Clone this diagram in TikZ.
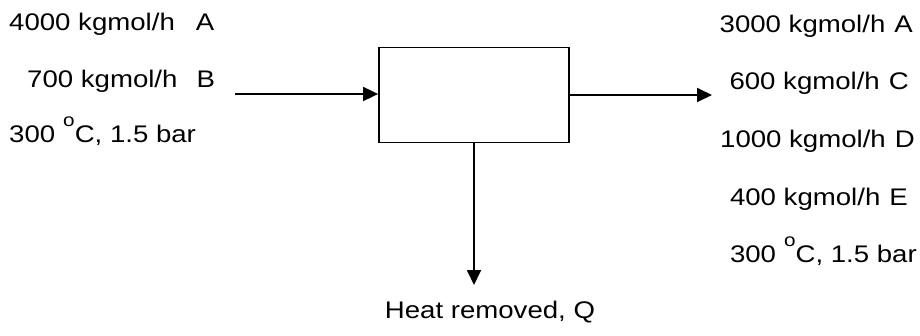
\documentclass[tikz,border=0pt]{standalone}
\usepackage{fontspec}
\setmainfont[FakeStretch=1.15]{Liberation Sans}
\usetikzlibrary{arrows.meta}
\newcommand{\degsup}{\hspace{8pt}\raisebox{0.66em}{\fontsize{18}{18}\selectfont o}}
\begin{document}
\begin{tikzpicture}[x=1pt,y=-1pt,
            txt/.style={inner sep=0pt, font=\fontsize{24}{28}\selectfont},
            inlbl/.style={txt, anchor=base west},
            outlbl/.style={txt, anchor=base east},
            unit/.style={draw, line width=1.8pt, minimum width=190pt, minimum height=95pt, inner sep=0pt},
            flow/.style={line width=1.8pt, -{Triangle[length=15pt,width=14pt]}}
            ]
            \useasboundingbox (0,0) rectangle (920,335);
            % reactor
            \node[unit] (reactor) at (474,95) {};
            % feed side
            \node[inlbl] (feedA) at (9,30) {4000 kgmol/h\hspace{21pt}A};
            \node[inlbl] (feedB) at (27,87) {700 kgmol/h\hspace{19pt}B};
            \node[inlbl] (feedT) at (9,142) {300\degsup C, 1.5 bar};
            % product side
            \node[outlbl] (prodA) at (913,32) {3000 kgmol/h\hspace{9pt}A};
            \node[outlbl] (prodC) at (909,89) {600 kgmol/h\hspace{9pt}C};
            \node[outlbl] (prodD) at (915,147) {1000 kgmol/h\hspace{9pt}D};
            \node[outlbl] (prodE) at (908,205) {400 kgmol/h\hspace{9pt}E};
            \node[outlbl] (prodT) at (917,262) {300\degsup C, 1.5 bar};
            % heat
            \node[txt, anchor=base] (heatlbl) at (490,318) {Heat removed, Q};
           
            \coordinate (feed) at (235,94);
            \coordinate (product) at (712,95);
            \coordinate (heat) at (474,285);
            \draw[flow] (feed) -- (feed -| reactor.west);
            \draw[flow] (product -| reactor.east) -- (product);
            \draw[flow] (reactor.south) -- (heat);
           
            \end{tikzpicture}
\end{document}
